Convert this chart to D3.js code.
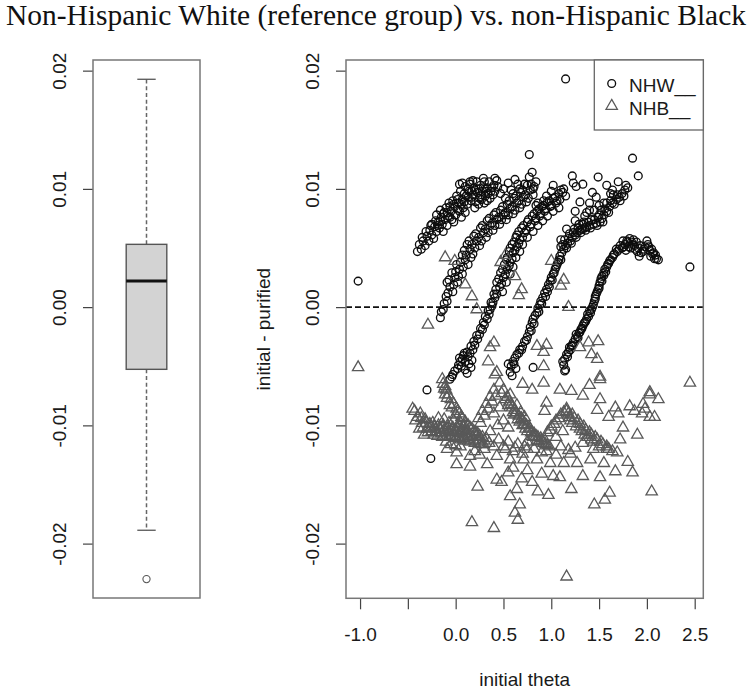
<!DOCTYPE html>
<html>
<head>
<meta charset="utf-8">
<script src="https://cdn.jsdelivr.net/npm/d3@7"></script>
<style>
  body { margin: 0; background: #fff; }
  svg { display: block; }
  text { font-family: "Liberation Sans", Arial, sans-serif; fill: #1a1a1a; }
</style>
</head>
<body>
<svg id="chart" width="750" height="692"></svg>
<script>
// axis ticks
const yTicks = [-0.02, -0.01, 0, 0.01, 0.02];
const yTickLabels = ["-0.02", "-0.01", "0.00", "0.01", "0.02"];
const xTicks = [-1, -0.5, 0, 0.5, 1, 1.5, 2, 2.5];
const xTickLabels = ["-1.0", "", "0.0", "0.5", "1.0", "1.5", "2.0", "2.5"];

// boxplot of initial - purified: lower whisker, q1, median, q3, upper whisker
const boxStats = [-0.01887, -0.00526, 0.00221, 0.00531, 0.01927];
const boxOutliers = [-0.0230];

// points: [initial theta, initial - purified in units of 0.001]
const nhwBandA = [[-0.40,4.7],[-0.38,5.3],[-0.36,4.9],[-0.34,5.6],[-0.32,5.2],[-0.30,6.0],[-0.28,5.6],[-0.27,6.5],[-0.25,6.1],[-0.23,5.8],[-0.22,6.8],[-0.20,6.4],[-0.18,7.2],[-0.17,6.7],[-0.15,7.6],[-0.14,7.0],[-0.12,8.0],[-0.11,7.4],[-0.10,8.4],[-0.08,7.7],[-0.07,8.8],[-0.05,8.1],[-0.04,7.4],[-0.03,9.0],[-0.01,8.5],[0.00,7.8],[0.01,9.4],[0.03,8.8],[0.04,8.1],[0.05,9.8],[0.07,9.1],[0.08,8.4],[0.10,10.2],[0.11,9.4],[0.12,8.7],[0.14,9.8],[0.15,10.4],[0.16,9.0],[0.18,9.5],[0.19,10.1],[0.21,8.9],[0.22,10.6],[0.23,9.7],[0.25,9.2],[0.26,10.3],[0.28,9.8],[0.30,10.6],[0.31,9.4],[0.33,10.1],[0.35,10.6],[0.37,9.8],[0.40,10.3],[0.43,10.7],[0.30,8.8],[0.20,8.4],[0.36,9.2],[0.04,10.4],[0.15,10.6],[-0.13,6.4],[-0.09,6.9],[-0.02,7.2],[-0.16,8.2],[-0.20,7.8],[-0.25,7.0],
  [-0.35,5.9],[-0.31,6.4],[-0.26,6.9],[-0.21,7.3],[-0.19,6.9],[-0.16,7.3],[-0.13,7.9],[-0.09,8.0],[-0.06,8.5],[-0.02,8.7],[-0.06,7.6],[0.02,8.3],[0.02,9.1],[0.06,8.7],[0.09,9.6],[0.09,8.9],[0.13,9.3],[0.13,10.0],[0.17,9.8],[0.17,9.3],[0.20,9.9],[0.24,10.0],[0.27,9.5],[0.29,10.1],[0.32,9.8],[0.34,9.6],[0.38,10.1],[0.41,9.8],[0.44,10.2],[0.24,8.7],[0.27,9.1],[0.33,9.0],[0.39,9.5],[0.10,8.0],[0.06,7.6],
  [0.07,10.5],[0.18,10.7],[0.41,10.9],[0.29,10.9]];
const nhwBandB = [[-0.16,-0.9],[-0.15,-0.4],[-0.13,-0.2],[-0.12,0.3],[-0.10,0.9],[-0.09,0.5],[-0.08,1.2],[-0.06,1.7],[-0.09,2.1],[-0.03,1.3],[-0.01,2.5],[-0.04,2.9],[0.02,2.1],[0.04,3.2],[0.01,3.6],[0.07,2.8],[0.10,4.0],[0.07,4.4],[0.13,3.6],[0.15,4.9],[0.12,5.3],[0.18,4.5],[0.22,5.6],[0.19,6.0],[0.25,5.2],[0.29,6.3],[0.26,6.7],[0.32,5.9],[0.36,6.9],[0.33,7.3],[0.39,6.5],[0.43,7.4],[0.40,7.8],[0.46,7.0],[0.50,7.8],[0.47,8.2],[0.53,7.4],[0.57,8.3],[0.54,8.7],[0.60,7.9],[0.64,8.8],[0.61,9.2],[0.67,8.4],[0.71,9.3],[0.68,9.7],[0.74,8.9],[0.78,9.9],[0.75,10.3],[0.81,9.5],[0.80,11.4],[0.77,11.0],[0.84,10.6],[0.72,10.4],[0.60,9.6],[0.52,9.2],[0.50,10.0],[0.55,10.5],[0.65,10.4],[0.62,10.8],[0.47,9.6],[0.81,10.0],
  [-0.07,2.3],[-0.02,1.9],[0.00,3.0],[0.03,2.6],[0.05,3.8],[0.08,3.4],[0.09,4.8],[0.11,4.4],[0.14,5.6],[0.16,4.2],[0.17,5.3],[0.20,5.0],[0.21,6.2],[0.24,5.9],[0.27,5.6],[0.28,6.9],[0.31,6.6],[0.34,6.3],[0.35,7.5],[0.38,7.1],[0.41,6.9],[0.42,8.0],[0.45,7.6],[0.48,7.4],[0.49,8.5],[0.52,8.0],[0.55,7.8],[0.56,9.0],[0.59,8.5],[0.62,8.2],[0.63,9.4],[0.66,9.0],[0.69,8.7],[0.70,9.9],[0.73,9.5],[0.76,9.2],[0.79,10.4],[0.82,10.2],[0.58,9.9],[0.67,10.0]];
const nhwBandC = [[-0.06,-6.1],[-0.03,-5.7],[-0.01,-5.4],[0.03,-4.9],[0.07,-4.4],[0.10,-4.6],[0.13,-4.2],[0.15,-3.9],[0.18,-3.6],[0.20,-3.2],[0.23,-2.7],[0.25,-2.3],[0.28,-1.9],[0.30,-1.5],[0.33,-1.0],[0.35,-0.6],[0.36,-0.2],[0.38,0.1],[0.39,0.4],[0.41,0.8],[0.43,1.1],[0.06,-5.0],[0.10,-5.3],[0.14,-4.8],[0.17,-4.5],[0.09,-3.9],[0.04,-4.3],[0.46,1.7],[0.43,2.1],[0.49,1.3],[0.50,2.5],[0.47,2.9],[0.53,2.1],[0.54,3.2],[0.51,3.6],[0.57,2.8],[0.57,3.8],[0.54,4.2],[0.60,3.4],[0.60,4.6],[0.57,5.0],[0.63,4.2],[0.64,5.1],[0.61,5.5],[0.67,4.7],[0.67,5.7],[0.64,6.1],[0.70,5.3],[0.72,6.3],[0.69,6.7],[0.75,5.9],[0.78,6.8],[0.75,7.2],[0.81,6.4],[0.83,7.3],[0.80,7.7],[0.86,6.9],[0.88,7.7],[0.85,8.1],[0.91,7.3],[0.93,8.1],[0.90,8.5],[0.96,7.7],[0.99,8.5],[0.96,8.9],[1.02,8.1],[1.05,8.8],[1.02,9.2],[1.08,8.4],[1.09,9.1],[1.12,9.7],[1.10,9.9],[1.15,9.4],[0.92,9.0],[0.86,8.8],
  [0.45,2.4],[0.48,2.0],[0.49,3.2],[0.52,2.8],[0.53,4.0],[0.56,3.5],[0.56,4.7],[0.59,4.1],[0.59,5.3],[0.62,4.8],[0.63,5.9],[0.66,5.4],[0.66,6.4],[0.70,5.9],[0.71,6.9],[0.74,6.5],[0.76,7.4],[0.79,7.0],[0.82,7.9],[0.84,7.5],[0.87,8.3],[0.89,7.9],[0.92,8.6],[0.94,8.3],[0.98,9.0],[1.00,8.6],[1.04,9.3],[1.06,9.0],[1.08,9.6],[0.84,8.6],[0.95,9.4],[1.00,9.8],[1.13,10.0],[0.42,1.5],[0.40,1.1],
  [0.02,-5.2],[0.05,-4.6],[0.08,-4.1],[0.12,-3.8],[0.16,-3.3],[0.19,-2.9],[0.22,-2.4],[0.26,-1.8],[0.29,-1.3],[0.31,-0.8],[0.34,-0.3],[0.37,0.4],[-0.04,-5.9],[0.12,-5.6],[0.16,-5.1],
  [1.16,6.6],[1.10,5.7],[1.25,8.1],[1.02,10.3]];
const nhwBandD = [[0.57,-5.5],[0.60,-4.6],[0.58,-5.0],[0.62,-4.3],[0.64,-4.0],[0.67,-3.6],[0.70,-3.3],[0.72,-2.9],[0.75,-2.5],[0.77,-2.1],[0.78,-1.7],[0.80,-1.3],[0.81,-1.0],[0.83,-0.7],[0.85,-0.5],[0.86,-0.1],[0.88,0.2],[0.89,0.5],[0.91,0.8],[0.93,1.2],[0.95,1.5],[0.97,1.9],[0.99,2.2],[1.00,2.5],[1.02,2.8],[1.04,3.2],[1.06,3.6],[1.08,4.0],[1.09,4.3],[0.55,-4.8],[0.59,-5.8],[0.63,-5.2],[1.11,4.6],[1.13,4.9],[1.10,5.1],[1.15,5.2],[1.17,5.4],[1.14,5.7],[1.20,5.6],[1.22,5.9],[1.19,6.2],[1.25,6.1],[1.27,6.3],[1.24,6.6],[1.30,6.5],[1.32,6.6],[1.29,7.0],[1.35,6.7],[1.37,6.8],[1.34,7.2],[1.40,6.9],[1.44,7.0],[1.42,7.4],[1.47,7.1],[1.51,7.2],[1.49,7.6],[1.53,7.5],[1.55,7.8],[1.52,8.2],[1.58,8.1],[1.61,8.5],[1.58,8.8],[1.64,8.8],[1.68,9.1],[1.65,9.5],[1.71,9.3],[1.74,9.6],[1.80,10.1],[1.77,9.9],[1.23,10.5],[1.33,10.4],[1.49,11.0],[1.43,9.7],[1.64,9.9],[1.55,8.8],[1.37,8.0],[1.30,8.9],[1.40,8.8],[1.26,10.2],[1.47,9.3],[1.58,10.3],[1.70,10.6],[1.22,11.1],
  [1.12,5.3],[1.16,5.0],[1.18,5.8],[1.21,5.4],[1.23,6.3],[1.26,5.9],[1.28,6.7],[1.31,6.3],[1.33,7.0],[1.36,6.5],[1.39,7.2],[1.41,6.7],[1.45,7.4],[1.48,6.9],[1.50,7.8],[1.54,7.2],[1.56,8.3],[1.60,8.0],[1.62,9.0],[1.66,8.7],[1.69,9.5],[1.72,9.0],[1.76,9.4],[1.78,10.3],[1.45,8.2],[1.35,7.7],[1.50,8.6],[1.25,7.3],[1.40,8.2],[1.62,9.6],
  [0.61,-4.8],[0.66,-3.9],[0.69,-3.6],[0.74,-2.8],[0.79,-2.0],[0.82,-1.4],[0.87,-0.4],[0.90,0.3],[0.94,0.9],[0.96,1.3],[0.98,1.7],[1.01,2.3],[1.03,2.9],[1.05,3.4],[1.07,3.8],[1.10,4.0]];
const nhwBandE = [[1.12,-4.6],[1.15,-5.3],[1.13,-4.9],[1.16,-4.0],[1.18,-3.8],[1.20,-3.6],[1.21,-3.3],[1.23,-3.0],[1.25,-2.7],[1.27,-2.5],[1.29,-2.2],[1.30,-2.1],[1.32,-1.8],[1.33,-1.6],[1.35,-1.3],[1.37,-1.0],[1.39,-0.8],[1.41,-0.5],[1.42,-0.2],[1.44,0.2],[1.45,0.5],[1.46,0.7],[1.47,1.1],[1.49,1.5],[1.50,1.8],[1.51,2.1],[1.52,2.4],[1.53,2.6],[1.55,2.9],[1.56,3.2],[1.58,3.4],[1.59,3.6],[1.61,3.9],[1.64,4.2],[1.66,4.5],[1.69,4.7],[1.71,4.9],[1.74,5.0],[1.77,5.3],[1.80,5.5],[1.78,4.8],[1.83,5.0],[1.85,5.3],[1.88,4.9],[1.91,5.0],[1.86,5.7],[1.94,4.6],[1.96,4.7],[1.98,5.1],[2.01,5.3],[2.03,4.8],[2.05,4.9],[2.07,4.6],[2.09,4.4],[2.10,4.1],[2.12,4.0],[1.82,5.8],[2.00,5.6],[1.75,5.6],[1.92,4.3],[2.04,4.3],
  [1.14,-4.4],[1.17,-4.2],[1.19,-3.4],[1.22,-3.2],[1.26,-2.3],[1.28,-2.6],[1.31,-1.9],[1.34,-1.4],[1.36,-1.2],[1.38,-0.6],[1.40,-0.3],[1.43,0.0],[1.46,0.9],[1.48,1.3],[1.50,1.6],[1.53,2.2],[1.55,2.7],[1.57,3.0],[1.60,3.7],[1.62,4.0],[1.65,4.4],[1.68,4.9],[1.72,5.2],[1.76,5.1],[1.79,5.6],[1.84,5.5],[1.87,5.2],[1.90,4.7],[1.93,5.2],[1.97,4.9],[2.02,5.1],[2.06,4.5],[2.08,4.1],[1.81,5.1],[1.89,5.5]];
const nhwOther = [[-1.02,2.2],[1.15,19.3],[2.45,3.4],[0.77,12.9],[1.85,12.6],[1.91,11.1],[-0.30,-7.0],[-0.26,-12.8],[0.81,-5.1],[1.14,-5.4]];

const nhbUpper = [[-1.02,-5.1],[-0.29,-1.5],[-0.11,4.2],[-0.01,3.9],[0.10,1.9],[0.17,0.9],[0.22,-0.2],[0.52,4.4],[0.47,3.8],[0.62,2.6],[0.69,1.5],[0.66,1.0],[1.00,3.9],[1.13,2.3],[1.10,1.8],[1.18,0.0],[0.36,-3.4],[0.40,-3.0],[0.85,-3.3],[0.92,-3.8],[0.95,-3.2],[0.92,-5.0],[1.49,-2.9],[1.39,-3.0],[1.30,-3.4],[1.48,-4.4],[1.51,-5.9],[1.42,-4.0],[2.45,-6.4],[-0.14,-6.1],[-0.11,-6.7],[0.43,-5.5],[0.46,-6.4],[0.34,-4.6],[0.92,-6.4],[1.09,-7.0],[1.21,-7.1],[2.03,-7.2],[0.41,-5.7]];
const nhbCore = [[-0.45,-8.6],[-0.43,-8.8],[-0.42,-9.6],[-0.40,-9.3],[-0.38,-10.3],[-0.37,-9.0],[-0.35,-9.8],[-0.33,-10.8],[-0.32,-9.5],[-0.30,-10.3],[-0.27,-9.9],[-0.25,-10.5],[-0.22,-10.1],[-0.20,-10.6],[-0.18,-10.0],[-0.17,-10.3],[-0.15,-10.7],[-0.13,-10.0],[-0.12,-10.4],[-0.10,-10.9],[-0.10,-11.4],[-0.08,-10.1],[-0.07,-10.5],[-0.05,-11.0],[-0.05,-11.6],[-0.03,-10.2],[-0.02,-10.6],[0.00,-11.1],[0.00,-11.7],[0.02,-10.3],[0.03,-10.7],[0.05,-11.2],[0.05,-11.8],[0.07,-10.4],[0.08,-10.8],[0.10,-11.3],[0.12,-10.5],[0.13,-10.9],[0.15,-11.4],[0.18,-11.0],[0.20,-11.5],[0.23,-11.2],[0.26,-11.6],[0.30,-11.3],
  [-0.36,-9.4],[-0.34,-10.2],[-0.31,-9.8],[-0.29,-10.6],[-0.26,-10.2],[-0.24,-9.8],[-0.23,-10.8],[-0.21,-10.3],[-0.19,-10.9],[-0.16,-10.4],[-0.14,-11.0],[-0.11,-10.6],[-0.09,-10.3],[-0.06,-10.8],[-0.04,-10.4],[-0.01,-10.9],[0.01,-10.5],[0.04,-11.0],[0.06,-10.6],[0.09,-11.1],[0.11,-10.7],[0.14,-11.2],[0.16,-10.8],[0.19,-11.3],[0.22,-10.9],[0.24,-11.4],[0.28,-11.0],[0.32,-11.1],[0.29,-11.6],[-0.12,-9.5],[-0.07,-9.8],[-0.02,-9.6],[0.03,-9.9],[0.08,-10.1],[-0.18,-9.4],
  [-0.13,-6.5],[-0.10,-7.0],[-0.11,-7.4],[-0.08,-7.4],[-0.05,-7.8],[-0.06,-8.3],[-0.02,-8.2],[0.01,-8.6],[0.00,-9.1],[0.04,-9.0],[0.05,-9.8],[0.07,-9.4],[0.10,-9.7],[0.13,-10.0],[0.17,-10.3],[0.21,-10.6],[0.25,-10.9],
  [-0.12,-6.9],[-0.09,-7.7],[-0.04,-8.5],[0.02,-8.8],[0.06,-9.3],[0.09,-10.0],[0.15,-10.2],[0.19,-10.5],[0.23,-10.7],
  [0.40,-7.0],[0.36,-7.6],[0.32,-8.2],[0.28,-8.8],[0.24,-9.4],[0.50,-7.0],[0.54,-7.6],[0.57,-7.4],[0.58,-8.2],[0.55,-8.3],[0.62,-8.7],[0.64,-8.3],[0.60,-8.9],[0.66,-9.2],[0.68,-8.9],[0.65,-9.5],[0.70,-9.6],[0.72,-9.3],[0.70,-10.0],[0.74,-10.0],[0.75,-10.5],[0.78,-10.3],[0.80,-10.9],[0.82,-10.7],[0.85,-11.3],[0.86,-11.0],[0.90,-11.3],[0.94,-11.6],[0.98,-11.8],[0.40,-9.0],[0.46,-8.5],[0.50,-9.6],[0.44,-10.0],[0.36,-10.5],[0.55,-10.2],[0.35,-11.5],[0.45,-11.2],[0.55,-11.4],[0.65,-11.6],[0.75,-11.4],
  [0.42,-7.5],[0.38,-8.0],[0.34,-8.6],[0.30,-9.2],[0.26,-9.8],[0.48,-7.3],[0.52,-7.8],[0.56,-8.0],[0.59,-8.5],[0.61,-9.1],[0.63,-9.0],[0.67,-9.7],[0.69,-9.4],[0.72,-9.9],[0.73,-10.3],[0.77,-10.2],[0.79,-10.6],[0.81,-11.0],[0.84,-10.9],[0.87,-11.4],[0.89,-11.1],[0.92,-11.5],[0.96,-11.7],
  [0.40,-11.8],[0.52,-12.0],[0.62,-11.9],[0.72,-11.8],[0.82,-12.0],[0.95,-12.2],[1.10,-11.8],[1.18,-12.1],[1.05,-11.0],[1.12,-10.5],
  [1.16,-8.6],[1.16,-8.8],[1.19,-9.3],[1.10,-9.1],[1.05,-9.6],[1.00,-10.1],[0.96,-10.6],[0.93,-11.2],[1.22,-9.1],[1.28,-9.6],[1.34,-10.1],[1.40,-10.6],[1.46,-11.0],[1.52,-11.4],[1.58,-11.8],[1.64,-12.2],[1.20,-9.6],[1.26,-10.1],[1.32,-10.5],[1.38,-11.0],[1.44,-11.4],[0.95,-8.1],[0.93,-8.8],
  [1.13,-8.9],[1.08,-9.4],[1.03,-9.9],[0.99,-10.4],[1.18,-9.0],[1.24,-9.4],[1.30,-9.9],[1.36,-10.4],[1.42,-10.8],[1.48,-11.2],[1.54,-11.6],[1.60,-12.0],[1.22,-9.8],[1.30,-10.3],[1.35,-10.8],[1.42,-11.2],[1.50,-11.8],
  [1.51,-6.1],[1.51,-7.8],[1.48,-8.7],[1.67,-8.5],[1.82,-8.4],[1.96,-8.2],[2.03,-7.4],[2.12,-7.8],[2.03,-9.3],[2.08,-9.3],[1.75,-10.2],[1.90,-10.8],[1.60,-9.3],[1.70,-9.0],[1.87,-8.8],[1.95,-9.0],[1.98,-8.6],[1.33,-7.5],[1.40,-6.6],[0.80,-7.0],[0.70,-6.5],[1.72,-11.2]];
const nhbLower = [[-0.09,-12.0],[0.01,-12.3],[0.15,-12.6],[0.20,-12.2],[0.25,-12.5],[0.30,-12.0],[0.43,-12.6],[0.50,-11.8],[0.57,-12.9],[0.60,-12.2],[0.70,-12.4],[0.71,-12.9],[0.75,-12.0],[0.85,-12.9],[0.90,-12.3],[0.99,-13.2],[1.05,-12.5],[1.13,-13.2],[1.20,-12.4],[1.25,-11.9],[1.27,-13.2],[1.33,-11.5],[1.41,-12.9],[1.44,-12.0],[1.55,-13.2],[1.58,-12.0],[1.69,-12.3],[1.80,-13.1],[1.85,-14.0],[1.67,-13.9],[1.51,-14.4],[1.33,-14.3],[1.02,-14.3],[1.09,-14.4],[0.90,-14.1],[0.75,-13.8],[0.60,-13.6],[0.55,-14.0],[0.69,-14.5],[0.80,-14.8],[0.43,-14.6],[0.48,-14.8],[0.01,-13.3],[0.15,-13.5],[0.33,-13.3],[0.23,-15.2],[0.64,-15.4],[0.57,-16.0],[0.67,-16.7],[0.62,-17.4],[0.65,-18.0],[0.86,-15.6],[0.97,-15.9],[1.21,-15.4],[1.61,-15.7],[1.56,-16.3],[1.45,-16.7],[2.05,-15.6],[0.17,-18.2],[0.40,-18.7],[1.16,-22.8]];

const legendLabels = ["NHW__", "NHB__"];

const nhw = [].concat(nhwBandA, nhwBandB, nhwBandC, nhwBandD, nhwBandE, nhwOther);
const nhb = [].concat(nhbUpper, nhbCore, nhbLower);

const svg = d3.select("#chart");
svg.append("rect").attr("width", 750).attr("height", 692).attr("fill", "#fff");

const boxPanel = { left: 93, right: 200, top: 60, bottom: 598 };
const scatterPanel = { left: 346, right: 703.3, top: 60, bottom: 598.3 };

const yScale = d3.scaleLinear().domain([-0.0246, 0.0209]).range([598, 60]);
const xScale = d3.scaleLinear().domain([-1.147, 2.59]).range([scatterPanel.left, scatterPanel.right]);

// title
svg.append("text")
  .attr("x", 376).attr("y", 25)
  .attr("text-anchor", "middle")
  .attr("textLength", 740).attr("lengthAdjust", "spacingAndGlyphs")
  .style("font-family", '"Liberation Serif", "Times New Roman", serif')
  .style("font-size", "29.5px")
  .style("fill", "#111")
  .text("Non-Hispanic White (reference group) vs. non-Hispanic Black");

function yAxis(x) {
  const g = svg.append("g")
    .attr("transform", `translate(${x},0)`)
    .call(d3.axisLeft(yScale).tickValues(yTicks).tickFormat((d, i) => yTickLabels[i]).tickSize(10).tickSizeOuter(0));
  g.select(".domain").remove();
  g.selectAll(".tick line").attr("stroke", "#444").attr("stroke-width", 1.2);
  g.selectAll(".tick text")
    .attr("x", null).attr("dy", null)
    .attr("transform", "translate(-27,0) rotate(-90)")
    .attr("text-anchor", "middle")
    .style("font-size", "19px")
    .style("fill", "#1a1a1a");
  return g;
}

// ---- left panel: boxplot
yAxis(boxPanel.left);
const bx = (boxPanel.left + boxPanel.right) / 2;
const boxHalf = 20.3, capHalf = 9.2;
const [wLo, q1, med, q3, wHi] = boxStats;
svg.append("line").attr("x1", bx).attr("x2", bx).attr("y1", yScale(q3)).attr("y2", yScale(wHi))
  .attr("stroke", "#666").attr("stroke-width", 1.5).attr("stroke-dasharray", "4,2.7");
svg.append("line").attr("x1", bx).attr("x2", bx).attr("y1", yScale(q1)).attr("y2", yScale(wLo))
  .attr("stroke", "#666").attr("stroke-width", 1.5).attr("stroke-dasharray", "4,2.7");
[wLo, wHi].forEach(v => {
  svg.append("line").attr("x1", bx - capHalf).attr("x2", bx + capHalf).attr("y1", yScale(v)).attr("y2", yScale(v))
    .attr("stroke", "#555").attr("stroke-width", 1.3);
});
svg.append("rect")
  .attr("x", bx - boxHalf).attr("width", boxHalf * 2)
  .attr("y", yScale(q3)).attr("height", yScale(q1) - yScale(q3))
  .attr("fill", "#d3d3d3").attr("stroke", "#555").attr("stroke-width", 1.4);
svg.append("line").attr("x1", bx - boxHalf).attr("x2", bx + boxHalf).attr("y1", yScale(med)).attr("y2", yScale(med))
  .attr("stroke", "#111").attr("stroke-width", 2.8);
svg.selectAll(".outlier").data(boxOutliers).enter().append("circle")
  .attr("cx", bx).attr("cy", d => yScale(d)).attr("r", 3.6)
  .attr("fill", "none").attr("stroke", "#555").attr("stroke-width", 1.1);
svg.append("rect")
  .attr("x", boxPanel.left).attr("y", boxPanel.top)
  .attr("width", boxPanel.right - boxPanel.left).attr("height", boxPanel.bottom - boxPanel.top)
  .attr("fill", "none").attr("stroke", "#777").attr("stroke-width", 1.5);

// ---- right panel: scatter
yAxis(scatterPanel.left);
const xg = svg.append("g")
  .attr("transform", `translate(0,${scatterPanel.bottom})`)
  .call(d3.axisBottom(xScale).tickValues(xTicks).tickFormat((d, i) => xTickLabels[i]).tickSize(11).tickSizeOuter(0));
xg.select(".domain").remove();
xg.selectAll(".tick line").attr("stroke", "#444").attr("stroke-width", 1.2);
xg.selectAll(".tick text").attr("y", 43).attr("dy", null).style("font-size", "19px").style("fill", "#1a1a1a");

svg.append("text")
  .attr("x", (scatterPanel.left + scatterPanel.right) / 2).attr("y", 686)
  .attr("text-anchor", "middle").style("font-size", "19px")
  .text("initial theta");
svg.append("text")
  .attr("transform", `translate(270,${(scatterPanel.top + scatterPanel.bottom) / 2}) rotate(-90)`)
  .attr("text-anchor", "middle").style("font-size", "19px")
  .text("initial - purified");

svg.selectAll(".nhw").data(nhw).enter().append("circle")
  .attr("class", "nhw")
  .attr("cx", d => xScale(d[0])).attr("cy", d => yScale(d[1] / 1000)).attr("r", 3.9)
  .attr("fill", "none").attr("stroke", "#0d0d0d").attr("stroke-width", 1.35);

const tri = d3.symbol().type(d3.symbolTriangle).size(56);
svg.selectAll(".nhb").data(nhb).enter().append("path")
  .attr("class", "nhb")
  .attr("transform", d => `translate(${xScale(d[0])},${yScale(d[1] / 1000)})`)
  .attr("d", tri)
  .attr("fill", "none").attr("stroke", "#595959").attr("stroke-width", 1.3);

svg.append("line")
  .attr("x1", scatterPanel.left).attr("x2", scatterPanel.right)
  .attr("y1", yScale(0)).attr("y2", yScale(0))
  .attr("stroke", "#111").attr("stroke-width", 1.8).attr("stroke-dasharray", "6,3");

svg.append("rect")
  .attr("x", scatterPanel.left).attr("y", scatterPanel.top)
  .attr("width", scatterPanel.right - scatterPanel.left).attr("height", scatterPanel.bottom - scatterPanel.top)
  .attr("fill", "none").attr("stroke", "#777").attr("stroke-width", 1.5);

// legend
const lg = svg.append("g");
lg.append("rect").attr("x", 594.3).attr("y", scatterPanel.top).attr("width", scatterPanel.right - 594.3).attr("height", 70)
  .attr("fill", "#fff").attr("stroke", "#666").attr("stroke-width", 1.3);
lg.append("circle").attr("cx", 611.7).attr("cy", 83.5).attr("r", 3.9)
  .attr("fill", "none").attr("stroke", "#0d0d0d").attr("stroke-width", 1.35);
lg.append("path").attr("transform", "translate(611.7,106)").attr("d", tri)
  .attr("fill", "none").attr("stroke", "#595959").attr("stroke-width", 1.3);
lg.selectAll(".lt").data(legendLabels).enter().append("text")
  .attr("x", 629).attr("y", (d, i) => 91.7 + i * 23.3)
  .style("font-size", "19px")
  .text(d => d);
</script>
</body>
</html>
